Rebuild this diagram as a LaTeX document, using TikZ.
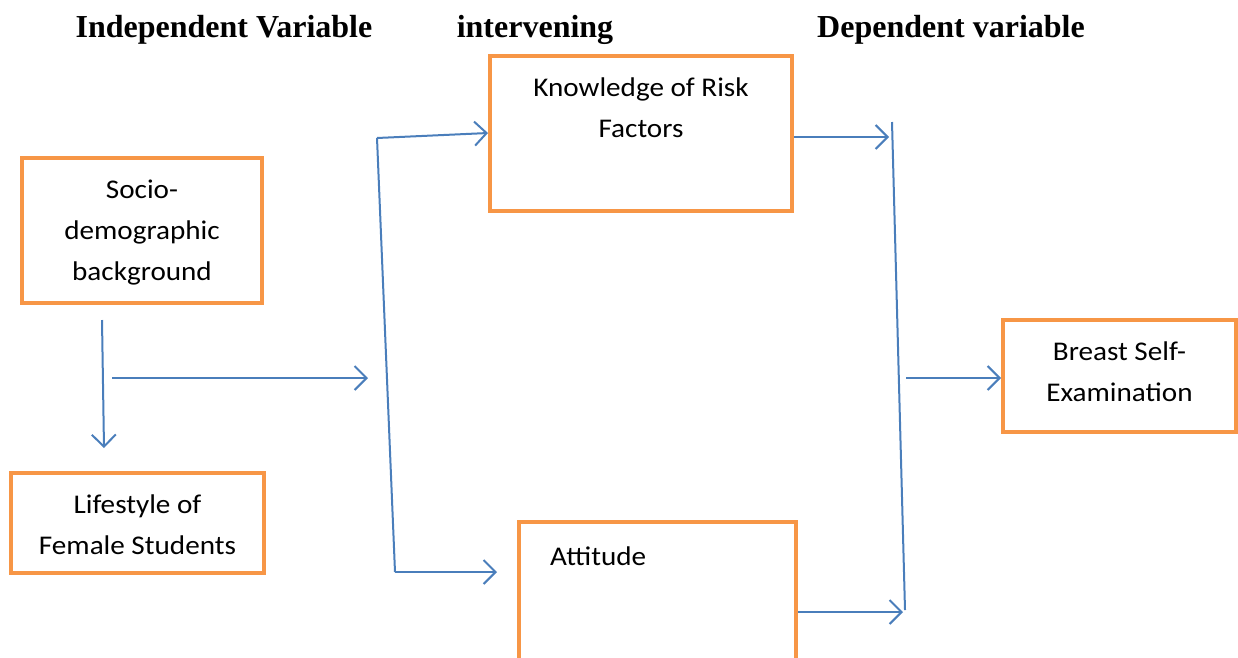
\documentclass[tikz,border=0pt]{standalone}
\usepackage{fontspec}
\setmainfont{Liberation Serif}
\newfontfamily\bodyfont[FakeStretch=1.08]{Carlito}
\usetikzlibrary{arrows.meta}
\definecolor{boxorange}{HTML}{F79646}
\definecolor{linkblue}{HTML}{4A7EBB}
\tikzset{
  box/.style={draw=boxorange, line width=4pt, rectangle, inner sep=0pt},
  boxtext/.style={font=\bodyfont\fontsize{27}{41}\selectfont, align=center, inner sep=0pt},
  heading/.style={font=\bfseries\fontsize{32}{36}\selectfont, inner sep=0pt, anchor=base},
  link/.style={draw=linkblue, line width=2pt, -{Straight Barb[length=12pt,width=24pt,line width=2pt]}},
  plainlink/.style={draw=linkblue, line width=2pt}
}
\begin{document}
\begin{tikzpicture}[x=1pt,y=-1pt]
\useasboundingbox (0,0) rectangle (1238,657);
% headings
\node[heading] (h1) at (224,37) {Independent Variable};
\node[heading] (h2) at (535,37) {intervening};
\node[heading] (h3) at (951,37) {Dependent variable};
% boxes
\node[box, minimum width=240pt, minimum height=145pt] (socio) at (142,230.5) {};
\node[boxtext] (sociot) at (142,233) {Socio-\\demographic\\background};
\node[box, minimum width=253pt, minimum height=100pt] (life) at (137.5,523) {};
\node[boxtext] (lifet) at (137.5,525) {Lifestyle of\\Female Students};
\node[box, minimum width=302pt, minimum height=155pt] (know) at (641,133.5) {};
\node[boxtext] (knowt) at (641,108) {Knowledge of Risk\\Factors};
\node[box, minimum width=277pt, minimum height=145pt] (att) at (657.5,594.5) {};
\node[boxtext, anchor=west] (attt) at (550,556) {Attitude};
\node[box, minimum width=233pt, minimum height=112pt] (bse) at (1119.5,376) {};
\node[boxtext] (bset) at (1119.5,372) {Breast Self-\\Examination};
% connector coordinates
\coordinate (s1) at (102,320);
\coordinate (s2) at (104,448);
\coordinate (m1) at (112,378);
\coordinate (m2) at (368,378);
\coordinate (lt) at (377,138);
\coordinate (lb) at (395,572);
\coordinate (rt) at (892,122);
\coordinate (rb) at (905,610);
\coordinate (rm) at (906,378);
% connectors
\draw[link] (s1) -- (s2);
\draw[link] (m1) -- (m2);
\draw[plainlink] (lt) -- (lb);
\draw[link] (lt) -- (know.west |- 0,133);
\draw[link] (lb) -- (497,572);
\draw[plainlink] (rt) -- (rb);
\draw[link] (know.east |- 0,137) -- (889,137);
\draw[link] (att.east |- 0,612) -- (903,612);
\draw[link] (rm) -- (bse.west |- rm);
\end{tikzpicture}
\end{document}
